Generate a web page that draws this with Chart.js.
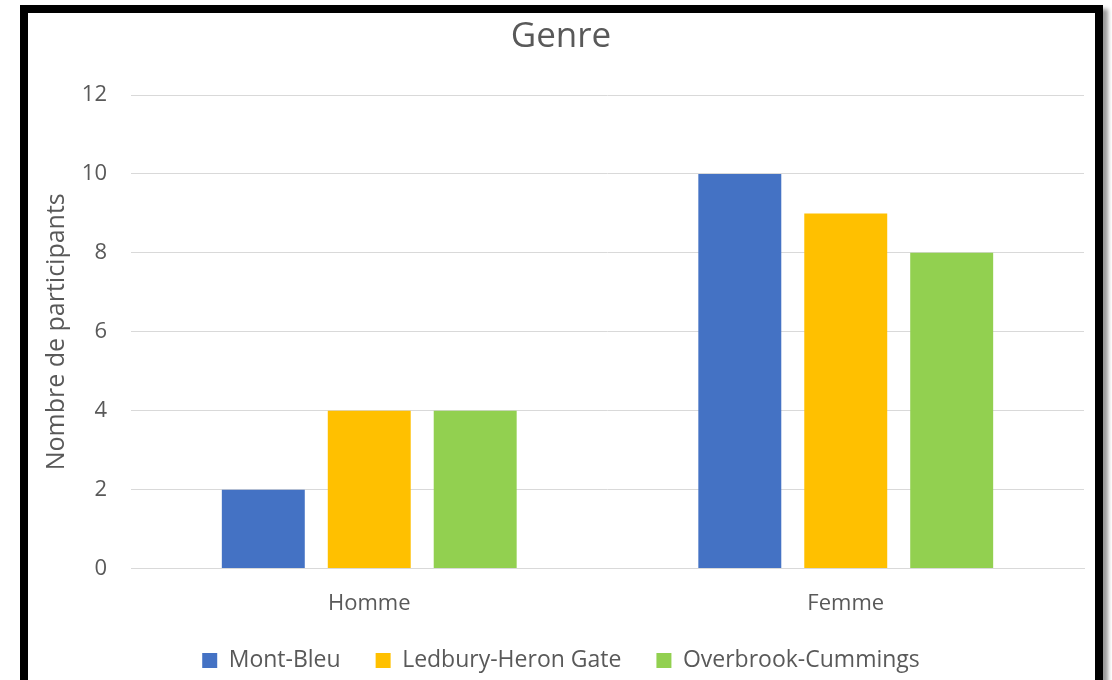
<!DOCTYPE html>
<html lang="fr">
<head>
    <meta charset="UTF-8">
    <title>Genre</title>
    <script src="https://cdn.jsdelivr.net/npm/chart.js"></script>
    <style>
        body { margin: 0; background: #fff; }
        #wrap { position: absolute; left: 0; top: 0; width: 1112px; height: 680px; }
        #frame {
            position: absolute; left: 20px; top: 5px; width: 1067px; height: 700px;
            border: 8px solid #000; box-shadow: 5px 4px 4px #999; pointer-events: none;
        }
    </style>
</head>
<body>
    <div id="wrap"><canvas id="genreChart" width="1112" height="680"></canvas></div>
    <div id="frame"></div>

    <script>
        // catégories et valeurs
        const categories = ["Homme", "Femme"];
        const montBleu = [2, 10];
        const ledbury = [4, 9];
        const overbrook = [4, 8];

        const grey = "#595959";
        const font = "'Open Sans', sans-serif";

        new Chart(document.getElementById("genreChart"), {
            type: "bar",
            data: {
                labels: categories,
                datasets: [
                    { label: "Mont-Bleu", data: montBleu, backgroundColor: "#4472C4" },
                    { label: "Ledbury-Heron Gate", data: ledbury, backgroundColor: "#FFC000" },
                    { label: "Overbrook-Cummings", data: overbrook, backgroundColor: "#92D050" }
                ]
            },
            options: {
                responsive: false,
                animation: false,
                devicePixelRatio: 1,
                layout: { padding: { left: 38, right: 28, top: 14, bottom: -2 } },
                datasets: { bar: { categoryPercentage: 0.667, barPercentage: 0.783 } },
                plugins: {
                    title: {
                        display: true, text: "Genre", color: grey,
                        font: { family: font, size: 35, weight: "normal" },
                        padding: { top: 2, bottom: 37 }
                    },
                    legend: {
                        position: "bottom",
                        labels: {
                            color: grey, boxWidth: 15, boxHeight: 15, padding: 35,
                            font: { family: font, size: 23 }
                        }
                    },
                    tooltip: { enabled: false }
                },
                scales: {
                    x: {
                        grid: { display: false },
                        border: { color: "#d9d9d9", width: 1 },
                        ticks: { color: grey, padding: 14, font: { family: font, size: 22 } },
                        afterFit(scale) { scale.height -= 17; }
                    },
                    y: {
                        min: 0, max: 12,
                        ticks: { stepSize: 2, color: grey, padding: 24, font: { family: font, size: 22 } },
                        grid: { color: "#d9d9d9", drawTicks: false },
                        border: { display: false },
                        title: {
                            display: true, text: "Nombre de participants", color: grey,
                            font: { family: font, size: 25 }, padding: { top: 4, bottom: 8 }
                        },
                        afterFit(scale) { scale.width = 93; }
                    }
                }
            }
        });
    </script>
</body>
</html>
